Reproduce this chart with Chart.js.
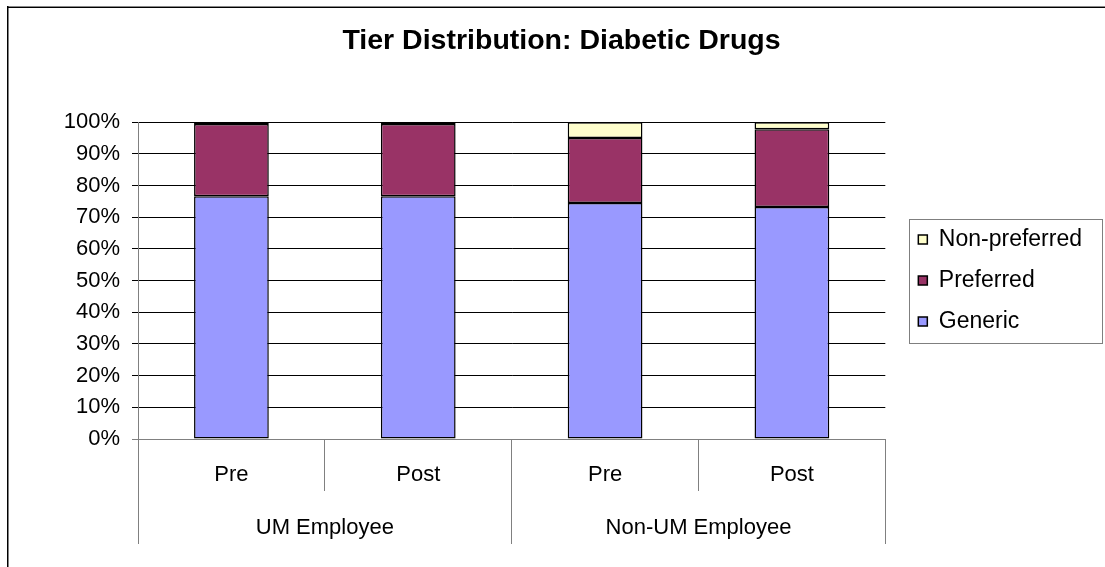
<!DOCTYPE html>
<html>
<head>
<meta charset="utf-8">
<script src="https://cdn.jsdelivr.net/npm/chart.js@4/dist/chart.umd.min.js"></script>
<style>
  html, body { margin: 0; padding: 0; background: #fff; }
  #wrap { width: 1105px; height: 567px; position: relative; }
</style>
</head>
<body>
<div id="wrap"><canvas id="chart" width="1105" height="567"></canvas></div>
<script>
// Sub-categories (inner axis level) and their groups (outer axis level)
const periods = ['Pre', 'Post', 'Pre', 'Post'];
const groups = ['UM Employee', 'Non-UM Employee'];

// Share of prescriptions per tier, in percent
const generic = [76.6, 76.6, 74.5, 73.2];
const preferred = [22.8, 22.8, 20.5, 24.6];
const nonPreferred = [0.6, 0.6, 5.0, 2.2];

const yTicks = [0, 10, 20, 30, 40, 50, 60, 70, 80, 90, 100];

const FONT = '"Liberation Sans", Arial, sans-serif';

// White page with the frame lines along the top and left edges
const framePlugin = {
  id: 'frame',
  beforeDraw(chart) {
    const ctx = chart.ctx;
    ctx.save();
    ctx.fillStyle = '#fff';
    ctx.fillRect(0, 0, chart.width, chart.height);
    ctx.fillStyle = '#888';
    ctx.fillRect(7, 6, chart.width - 7, 1);
    ctx.fillStyle = '#000';
    ctx.fillRect(7, 7, chart.width - 7, 1);
    ctx.fillRect(7, 6, 1.5, chart.height - 6);
    ctx.restore();
  }
};

// Box around the legend entries
const legendBoxPlugin = {
  id: 'legendBox',
  afterDraw(chart) {
    const hb = chart.legend && chart.legend.legendHitBoxes;
    if (!hb || !hb.length) return;
    const left = Math.min(...hb.map(b => b.left)) - 9;
    const top = Math.min(...hb.map(b => b.top)) - 9;
    const right = Math.max(...hb.map(b => b.left + b.width)) + 20;
    const bottom = Math.max(...hb.map(b => b.top + b.height)) + 10;
    const ctx = chart.ctx;
    ctx.save();
    ctx.strokeStyle = '#7f7f7f';
    ctx.lineWidth = 1;
    ctx.strokeRect(Math.round(left) + 0.5, Math.round(top) + 0.5,
                   Math.round(right - left), Math.round(bottom - top));
    ctx.restore();
  }
};

new Chart(document.getElementById('chart'), {
  type: 'bar',
  data: {
    labels: periods,
    datasets: [
      { label: 'Generic', data: generic, backgroundColor: '#9999FF' },
      { label: 'Preferred', data: preferred, backgroundColor: '#993366' },
      { label: 'Non-preferred', data: nonPreferred, backgroundColor: '#FFFFCC' }
    ].map(d => Object.assign(d, {
      borderColor: '#000',
      borderWidth: 1.5,
      borderSkipped: false,
      barPercentage: 0.4,
      categoryPercentage: 1
    }))
  },
  options: {
    responsive: false,
    animation: false,
    devicePixelRatio: 1,
    layout: { padding: { left: 31, right: 13, top: 0, bottom: 23 } },
    plugins: {
      title: {
        display: true,
        text: 'Tier Distribution: Diabetic Drugs',
        color: '#000',
        font: { family: FONT, size: 28.5, weight: 'bold' },
        padding: { top: 24, bottom: 64 }
      },
      legend: {
        position: 'right',
        fullSize: false,
        reverse: true,
        maxWidth: 300,
        labels: {
          color: '#000',
          font: { family: FONT, size: 23 },
          boxWidth: 9,
          boxHeight: 9,
          padding: 18,
          useBorderRadius: false
        }
      },
      tooltip: { enabled: false }
    },
    scales: {
      x: {
        stacked: true,
        position: 'bottom',
        grid: {
          display: true,
          offset: true,
          drawOnChartArea: false,
          drawTicks: true,
          tickLength: 52,
          color: '#808080',
          lineWidth: 1
        },
        border: { display: true, color: '#808080', width: 1 },
        ticks: {
          color: '#000',
          font: { family: FONT, size: 22 },
          padding: -29,
          maxRotation: 0,
          autoSkip: false
        },
        afterFit(s) { s.height = 52; }
      },
      x2: {
        type: 'category',
        labels: groups,
        position: 'bottom',
        grid: {
          display: true,
          offset: true,
          drawOnChartArea: false,
          drawTicks: true,
          tickLength: 53,
          color: '#808080',
          lineWidth: 1
        },
        border: { display: false },
        ticks: {
          color: '#000',
          font: { family: FONT, size: 22 },
          padding: -29,
          maxRotation: 0,
          autoSkip: false
        },
        afterFit(s) { s.height = 53; }
      },
      y: {
        stacked: true,
        min: 0,
        max: 100,
        afterBuildTicks(s) { s.ticks = yTicks.map(v => ({ value: v })); },
        grid: {
          color: c => (c.tick && c.tick.value === 0) ? '#808080' : '#000',
          lineWidth: 1,
          drawTicks: true,
          tickLength: 6
        },
        border: { display: true, color: '#808080', width: 1 },
        ticks: {
          color: '#000',
          font: { family: FONT, size: 22 },
          padding: 12,
          callback: v => v + '%'
        },
        afterFit(s) { s.width = 107; }
      },
      gap: {
        type: 'linear',
        position: 'right',
        display: true,
        grid: { display: false },
        border: { display: false },
        ticks: { display: false },
        afterFit(s) { s.width = 15; }
      }
    }
  },
  plugins: [framePlugin, legendBoxPlugin]
});
</script>
</body>
</html>
